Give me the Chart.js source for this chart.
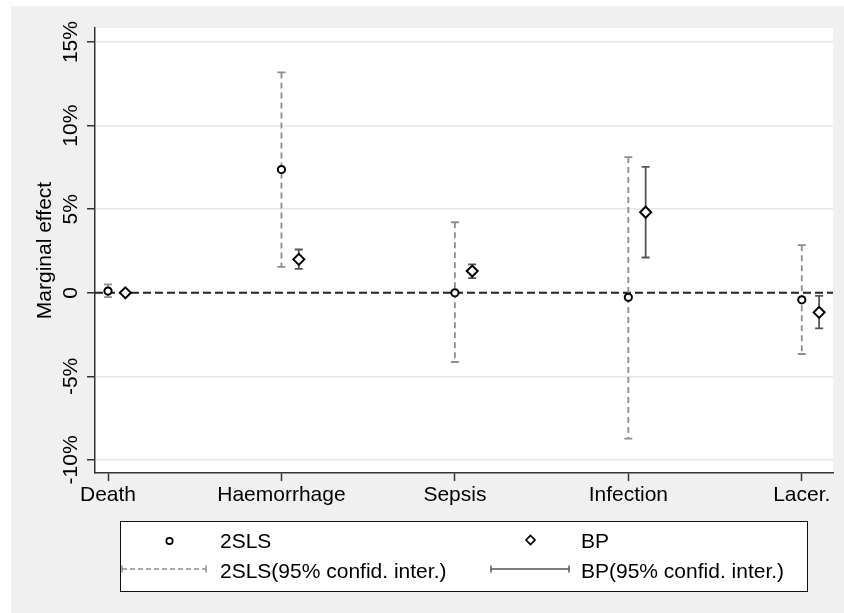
<!DOCTYPE html>
<html>
<head>
<meta charset="utf-8">
<script src="https://cdn.jsdelivr.net/npm/chart.js@4.4.0/dist/chart.umd.min.js"></script>
<style>
  html, body { margin: 0; padding: 0; background: #fff; }
</style>
</head>
<body>
<canvas id="chart" width="844" height="613"></canvas>
<script>
// values, in percent
const categories = ["Death", "Haemorrhage", "Sepsis", "Infection", "Lacer."];
const tslsEst = [0.1, 7.37, 0.0, -0.27, -0.42];
const tslsLow = [-0.26, 1.55, -4.14, -8.72, -3.66];
const tslsHigh = [0.5, 13.18, 4.22, 8.12, 2.85];
const bpEst = [0.0, 2.0, 1.3, 4.82, -1.17];
const bpLow = [-0.03, 1.43, 0.88, 2.11, -2.13];
const bpHigh = [0.03, 2.59, 1.7, 7.53, -0.18];
const yTicks = [-10, -5, 0, 5, 10, 15];
const yTickLabels = ["-10%", "-5%", "0", "5%", "10%", "15%"];
const yTitle = "Marginal effect";
const legendLabels = ["2SLS", "BP", "2SLS(95% confid. inter.)", "BP(95% confid. inter.)"];

const FONT = "'Liberation Sans', Arial, Helvetica, sans-serif";
const TSLS_CI = "#8e8e8e";
const BP_CI = "#555555";

function ciBar(ctx, x, y1, y2, color, dash) {
  ctx.save();
  ctx.strokeStyle = color;
  ctx.lineWidth = 1.8;
  ctx.setLineDash(dash);
  ctx.beginPath();
  ctx.moveTo(x, y1);
  ctx.lineTo(x, y2);
  ctx.stroke();
  ctx.setLineDash([]);
  ctx.beginPath();
  ctx.moveTo(x - 4, y1); ctx.lineTo(x + 4, y1);
  ctx.moveTo(x - 4, y2); ctx.lineTo(x + 4, y2);
  ctx.stroke();
  ctx.restore();
}

function hBar(ctx, x1, x2, y, color, dash) {
  ctx.save();
  ctx.strokeStyle = color;
  ctx.lineWidth = 1.5;
  ctx.setLineDash(dash);
  ctx.beginPath();
  ctx.moveTo(x1, y); ctx.lineTo(x2, y);
  ctx.stroke();
  ctx.setLineDash([]);
  ctx.beginPath();
  ctx.moveTo(x1, y - 3.5); ctx.lineTo(x1, y + 3.5);
  ctx.moveTo(x2, y - 3.5); ctx.lineTo(x2, y + 3.5);
  ctx.stroke();
  ctx.restore();
}

const stataLook = {
  id: "stataLook",
  beforeDraw(chart) {
    const { ctx, chartArea: a } = chart;
    ctx.save();
    ctx.fillStyle = "#fff";
    ctx.fillRect(0, 0, chart.width, chart.height);
    ctx.fillStyle = "#f0f0f0";
    ctx.fillRect(11, 6, chart.width - 11, chart.height - 6);
    ctx.fillStyle = "#fff";
    ctx.fillRect(a.left, a.top, a.right - a.left, a.bottom - a.top);
    ctx.restore();
  },
  beforeDatasetsDraw(chart) {
    const { ctx, chartArea: a } = chart;
    const xs = chart.scales.x, ys = chart.scales.y;
    // zero reference line
    const y0 = ys.getPixelForValue(0);
    ctx.save();
    ctx.strokeStyle = "#222";
    ctx.lineWidth = 2;
    ctx.setLineDash([8, 4]);
    ctx.beginPath();
    ctx.moveTo(a.left, y0);
    ctx.lineTo(a.right, y0);
    ctx.stroke();
    ctx.restore();
    categories.forEach((c, i) => {
      ciBar(ctx, xs.getPixelForValue(i + 1), ys.getPixelForValue(tslsHigh[i]),
        ys.getPixelForValue(tslsLow[i]), TSLS_CI, [6, 4]);
      ciBar(ctx, xs.getPixelForValue(i + 1.1), ys.getPixelForValue(bpHigh[i]),
        ys.getPixelForValue(bpLow[i]), BP_CI, []);
    });
  },
  afterDraw(chart) {
    const { ctx, chartArea: a } = chart;
    const ys = chart.scales.y;
    ctx.save();
    ctx.fillStyle = "#000";
    ctx.font = "21px " + FONT;
    ctx.textAlign = "center";
    ctx.textBaseline = "alphabetic";
    // rotated y tick labels
    yTicks.forEach((v, i) => {
      ctx.save();
      ctx.translate(77, ys.getPixelForValue(v));
      ctx.rotate(-Math.PI / 2);
      ctx.fillText(yTickLabels[i], 0, 0);
      ctx.restore();
    });
    // y title
    ctx.save();
    ctx.translate(51, (a.top + a.bottom) / 2);
    ctx.rotate(-Math.PI / 2);
    ctx.fillText(yTitle, 0, 0);
    ctx.restore();

    // legend
    ctx.fillStyle = "#fff";
    ctx.fillRect(120.5, 521.5, 687, 70);
    ctx.strokeStyle = "#111";
    ctx.lineWidth = 1;
    ctx.strokeRect(120.5, 521.5, 687, 70);

    ctx.lineWidth = 1.7;
    ctx.strokeStyle = "#000";
    ctx.beginPath();
    ctx.arc(169.5, 541, 3.2, 0, Math.PI * 2);
    ctx.stroke();
    ctx.beginPath();
    ctx.moveTo(530.5, 535.5); ctx.lineTo(535, 540);
    ctx.lineTo(530.5, 544.5); ctx.lineTo(526, 540);
    ctx.closePath();
    ctx.stroke();

    hBar(ctx, 122, 206, 569, TSLS_CI, [5, 3]);
    hBar(ctx, 491, 569, 569, BP_CI, []);

    ctx.fillStyle = "#000";
    ctx.textAlign = "left";
    ctx.fillText(legendLabels[0], 220, 548);
    ctx.fillText(legendLabels[1], 581, 548);
    ctx.fillText(legendLabels[2], 220, 578);
    ctx.fillText(legendLabels[3], 581, 578);
    ctx.restore();
  }
};

new Chart(document.getElementById("chart"), {
  type: "scatter",
  data: {
    datasets: [
      {
        label: legendLabels[0],
        data: tslsEst.map((v, i) => ({ x: i + 1, y: v })),
        pointStyle: "circle",
        pointRadius: 3.6,
        pointBorderWidth: 2,
        borderColor: "#000",
        backgroundColor: "#fff"
      },
      {
        label: legendLabels[1],
        data: bpEst.map((v, i) => ({ x: i + 1.1, y: v })),
        pointStyle: "rectRot",
        pointRadius: 5.5,
        pointBorderWidth: 2,
        borderColor: "#000",
        backgroundColor: "#fff"
      }
    ]
  },
  options: {
    responsive: false,
    animation: false,
    layout: { padding: { top: 28, right: 11, left: 0, bottom: 0 } },
    plugins: { legend: { display: false }, tooltip: { enabled: false } },
    scales: {
      x: {
        type: "linear",
        min: 0.925,
        max: 5.18,
        afterBuildTicks: (s) => { s.ticks = categories.map((c, i) => ({ value: i + 1 })); },
        afterFit: (s) => { s.height = 140; },
        ticks: {
          callback: (v) => categories[v - 1],
          font: { size: 21, family: FONT },
          color: "#000",
          padding: 2,
          maxRotation: 0,
          autoSkip: false
        },
        grid: { drawOnChartArea: false, tickLength: 8, tickColor: "#333", tickWidth: 1.5 },
        border: { color: "#333", width: 1.5 }
      },
      y: {
        min: -10.78,
        max: 15.84,
        afterBuildTicks: (s) => { s.ticks = yTicks.map((v) => ({ value: v })); },
        afterFit: (s) => { s.width = 95; },
        ticks: { display: false },
        grid: {
          color: (c) => (c.tick && c.tick.value === 0 ? "rgba(0,0,0,0)" : "#e6e6e6"),
          lineWidth: 1.5,
          tickLength: 8,
          tickColor: "#333",
          tickWidth: 1.5
        },
        border: { color: "#333", width: 1.5 }
      }
    }
  },
  plugins: [stataLook]
});
</script>
</body>
</html>
